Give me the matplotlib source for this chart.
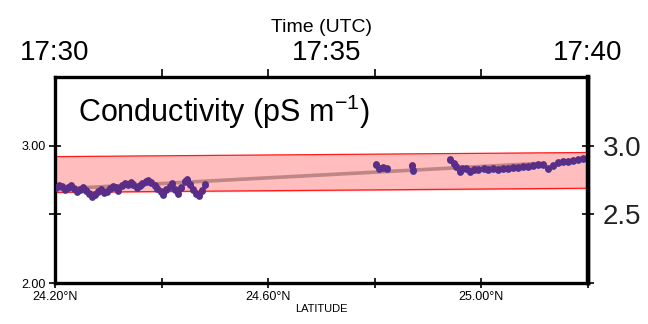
import numpy as np
from matplotlib import pyplot as plt

plt.rcParams['font.family'] = ['Liberation Sans', 'DejaVu Sans']

# conductivity points (latitude, pS/m)
lat_south = [24.202, 24.207, 24.213, 24.219, 24.224, 24.230, 24.235, 24.241, 24.247, 24.252,
             24.258, 24.263, 24.269, 24.275, 24.280, 24.286, 24.291, 24.297, 24.303, 24.308,
             24.314, 24.319, 24.325, 24.331, 24.336, 24.342, 24.347, 24.353, 24.359, 24.364,
             24.370, 24.375, 24.381, 24.387, 24.392, 24.398, 24.403, 24.409, 24.415, 24.420,
             24.426, 24.431, 24.437, 24.443, 24.448, 24.454, 24.459, 24.465, 24.471, 24.476,
             24.482]
cond_south = [2.701, 2.715, 2.708, 2.686, 2.701, 2.715, 2.693, 2.672, 2.686, 2.701,
              2.679, 2.657, 2.635, 2.650, 2.672, 2.686, 2.664, 2.672, 2.693, 2.708,
              2.701, 2.679, 2.715, 2.730, 2.723, 2.737, 2.723, 2.701, 2.715, 2.730,
              2.745, 2.752, 2.737, 2.715, 2.693, 2.672, 2.650, 2.686, 2.708, 2.730,
              2.686, 2.657, 2.701, 2.745, 2.759, 2.723, 2.686, 2.657, 2.642, 2.679,
              2.723]
lat_mid = [24.802, 24.807, 24.815, 24.822, 24.869, 24.871]
cond_mid = [2.869, 2.839, 2.847, 2.839, 2.861, 2.825]
lat_north = [24.942, 24.948, 24.953, 24.959, 24.964, 24.972, 24.979, 24.987, 24.994, 25.004,
             25.013, 25.022, 25.032, 25.041, 25.050, 25.060, 25.069, 25.078, 25.088, 25.097,
             25.106, 25.116, 25.125, 25.134, 25.144, 25.153, 25.163, 25.172, 25.181, 25.191]
cond_north = [2.905, 2.876, 2.854, 2.818, 2.839, 2.839, 2.818, 2.832, 2.832, 2.839,
              2.832, 2.839, 2.832, 2.839, 2.839, 2.847, 2.847, 2.854, 2.854, 2.861,
              2.869, 2.869, 2.839, 2.861, 2.883, 2.891, 2.891, 2.898, 2.905, 2.912]

# fit line and envelope
trend_lat = [24.20, 25.10]
trend_val = [2.683, 2.869]
band_lat = [24.20, 25.20]
band_upper = [2.92, 2.95]
band_lower = [2.66, 2.69]

# axis labels
lat_ticks = [24.2, 24.4, 24.6, 24.8, 25.0, 25.2]
lat_labels = ['24.20°N', '', '24.60°N', '', '25.00°N', '']
left_ticks = [2.0, 2.5, 3.0]
left_labels = ['2.00', '', '3.00']
right_labels = ['', '2.5', '3.0']
time_minor = [0, 2, 4, 6, 8, 10]
time_ticks = [0, 5.1, 10]
time_labels = ['17:30', '17:35', '17:40']

lat = lat_south + lat_mid + lat_north
cond = cond_south + cond_mid + cond_north

fig = plt.figure(figsize=(6.48, 3.24), dpi=100)
ax = fig.add_axes([0.0849, 0.1265, 0.8225, 0.636])

ax.fill_between(band_lat, band_lower, band_upper, color='#ffbdbd', zorder=1)
ax.plot(band_lat, band_upper, color='#ff1a1a', lw=0.9, zorder=2)
ax.plot(band_lat, band_lower, color='#ff1a1a', lw=0.9, zorder=2)
ax.plot(trend_lat, trend_val, color='#c08585', lw=2.6, zorder=3)

# bluish under-layer, purple on top
ax.scatter(lat, np.array(cond) - 0.008, s=24, color='#3a3ca0', lw=0, zorder=4)
ax.scatter(lat, cond, s=24, color='#5b2d86', lw=0, zorder=5)

ax.set_xlim(24.2, 25.2)
ax.set_ylim(2.0, 3.5)
ax.set_xticks(lat_ticks)
ax.set_xticklabels(lat_labels, fontsize=9)
ax.set_yticks(left_ticks)
ax.set_yticklabels(left_labels, fontsize=9)
ax.set_xlabel('LATITUDE', fontsize=8, labelpad=1)
ax.tick_params(axis='x', direction='inout', length=7, width=1.2, pad=2)
ax.tick_params(axis='y', direction='inout', length=9, width=1.2, pad=2)
for s in ax.spines.values():
    s.set_linewidth(2.4)

ax2 = ax.twinx()
ax2.set_ylim(2.0, 3.5)
ax2.set_yticks(left_ticks)
ax2.set_yticklabels(right_labels, fontsize=20, color='#222222')
ax2.tick_params(axis='y', direction='inout', length=9, width=1.2, pad=6)
ax2.spines['right'].set_linewidth(3.2)

ax3 = ax.twiny()
ax3.set_xlim(0, 10)
ax3.set_xticks(time_ticks)
ax3.set_xticklabels(time_labels, fontsize=20)
ax3.set_xticks(time_minor, minor=True)
ax3.tick_params(axis='x', which='major', length=0, pad=8)
ax3.tick_params(axis='x', which='minor', direction='out', length=6, width=1.2)
ax3.set_xlabel('Time (UTC)', fontsize=14, labelpad=6)

ax.text(0.043, 0.83, 'Conductivity (pS m$^{\\mathregular{-1}}$)', transform=ax.transAxes,
        fontsize=22, va='center', ha='left', zorder=6)

fig.savefig('out.png', dpi=100)
